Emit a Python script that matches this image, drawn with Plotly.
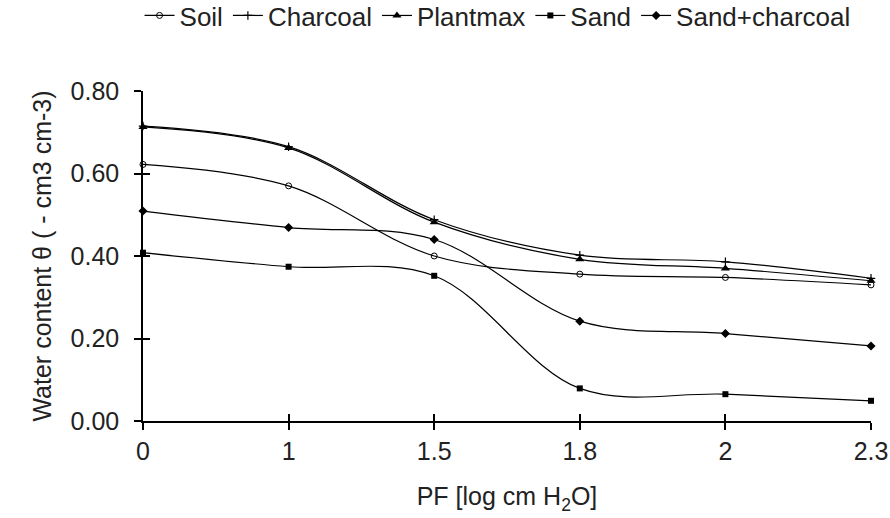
import plotly.graph_objects as go

pf = ["0", "1", "1.5", "1.8", "2", "2.3"]
soil = [0.622, 0.570, 0.400, 0.356, 0.348, 0.330]
charcoal = [0.715, 0.665, 0.488, 0.402, 0.386, 0.346]
plantmax = [0.713, 0.662, 0.482, 0.392, 0.370, 0.340]
sand = [0.408, 0.374, 0.352, 0.079, 0.065, 0.049]
sand_charcoal = [0.509, 0.469, 0.440, 0.242, 0.212, 0.182]

series = [
    ("Soil", soil, dict(symbol="circle-open", size=6, color="black", line=dict(width=1, color="black"))),
    ("Charcoal", charcoal, dict(symbol="cross-thin-open", size=6, color="black", line=dict(width=1.2, color="black"))),
    ("Plantmax", plantmax, dict(symbol="triangle-up", size=8, color="black")),
    ("Sand", sand, dict(symbol="square", size=6, color="black")),
    ("Sand+charcoal", sand_charcoal, dict(symbol="diamond", size=7, color="black")),
]

font = "Liberation Sans, Arial, sans-serif"
txt = "#222"
fig = go.Figure()
for name, vals, mk in series:
    fig.add_trace(go.Scatter(
        x=pf, y=vals, name=name, mode="lines+markers",
        line=dict(color="black", width=1.2, shape="spline", smoothing=1.0),
        marker=mk, cliponaxis=False,
    ))

fig.update_layout(
    width=890, height=518,
    margin=dict(l=143, r=19, t=91, b=97),
    paper_bgcolor="white", plot_bgcolor="white",
    font=dict(family=font, size=24, color=txt),
    showlegend=True,
    legend=dict(orientation="h", x=0.487, xanchor="center", yref="container", y=0.97, yanchor="middle",
                font=dict(size=26, color=txt), itemwidth=30, tracegroupgap=0),
    xaxis=dict(type="category", range=[0, 5], showline=True, linecolor="black", linewidth=1.5,
               ticks="outside", ticklen=7, tickwidth=1.5, tickcolor="black", showgrid=False, zeroline=False,
               automargin=False, tickfont=dict(size=25, color=txt),
               title=dict(text="PF [log cm H<sub>2</sub>O]", font=dict(size=25, color=txt), standoff=24)),
    yaxis=dict(range=[0, 0.8], dtick=0.2, tickformat=".2f", showline=True, linecolor="black", linewidth=1.5,
               ticks="outside", ticklen=7, tickwidth=1.5, tickcolor="black", showgrid=False, zeroline=False,
               automargin=False, tickfont=dict(size=25, color=txt), ticklabelstandoff=10,
               title=dict(text="Water content θ ( - cm3 cm-3)", font=dict(size=25, color=txt), standoff=12)),
    xaxis2=dict(overlaying="x", anchor="y", range=[0, 5], dtick=1, ticks="inside", ticklen=7, tickwidth=1.5,
                tickcolor="black", showticklabels=False, showgrid=False, zeroline=False, showline=False,
                automargin=False),
    yaxis2=dict(overlaying="y", anchor="x", side="left", range=[0, 0.8], dtick=0.2, ticks="inside", ticklen=7,
                tickwidth=1.5, tickcolor="black", showticklabels=False, showgrid=False, zeroline=False,
                showline=False, automargin=False),
)
# invisible trace to activate overlay axes
fig.add_trace(go.Scatter(x=[None], y=[None], xaxis="x2", yaxis="y2", showlegend=False, hoverinfo="skip"))

fig.write_html("out.html", config={"displayModeBar": False},
               post_script="document.body.style.margin='0';")
